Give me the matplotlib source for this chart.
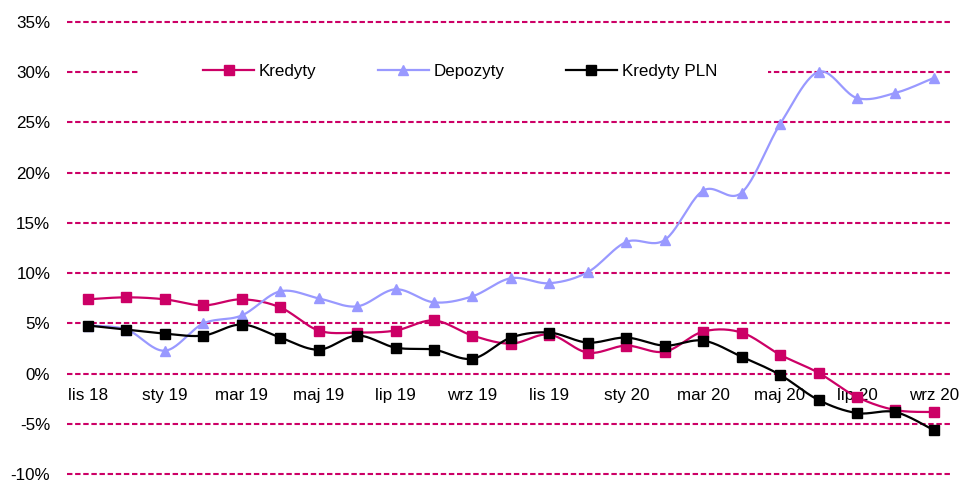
import numpy as np
import matplotlib
matplotlib.use("Agg")
import matplotlib.pyplot as plt
from matplotlib.lines import Line2D
from matplotlib.patches import Rectangle

plt.rcParams['font.family'] = ['Liberation Sans', 'DejaVu Sans']
plt.rcParams['axes.unicode_minus'] = False

# ---- data ----
months = ['lis 18', 'gru 18', 'sty 19', 'lut 19', 'mar 19', 'kwi 19', 'maj 19', 'cze 19',
          'lip 19', 'sie 19', 'wrz 19', 'paź 19', 'lis 19', 'gru 19', 'sty 20', 'lut 20',
          'mar 20', 'kwi 20', 'maj 20', 'cze 20', 'lip 20', 'sie 20', 'wrz 20']
kredyty = [7.4, 7.6, 7.4, 6.8, 7.4, 6.6, 4.3, 4.1, 4.3, 5.3, 3.8, 3.0, 3.9, 2.1, 2.8, 2.2,
           4.2, 4.1, 1.9, 0.1, -2.3, -3.6, -3.8]
depozyty = [4.8, 4.4, 2.3, 5.0, 5.8, 8.2, 7.5, 6.7, 8.4, 7.1, 7.7, 9.5, 9.0, 10.1, 13.1, 13.3,
            18.2, 18.0, 24.8, 30.0, 27.4, 27.9, 29.4]
kredyty_pln = [4.8, 4.4, 4.0, 3.8, 4.9, 3.6, 2.4, 3.8, 2.6, 2.4, 1.5, 3.6, 4.1, 3.1, 3.6, 2.8,
               3.3, 1.7, -0.1, -2.6, -3.9, -3.8, -5.6]
series_names = ['Kredyty', 'Depozyty', 'Kredyty PLN']
y_ticks = list(range(-10, 40, 5))

PINK = '#CC0066'
BLUE = '#9999FF'
BLACK = '#000000'


def smooth(vals, n=25):
    """Excel-like smoothed line (Catmull-Rom as cubic Bezier)."""
    x = np.arange(len(vals), dtype=float)
    pts = np.column_stack([x, np.asarray(vals, dtype=float)])
    P = np.vstack([pts[0], pts, pts[-1]])
    segs = []
    for i in range(len(pts) - 1):
        p0, p1, p2, p3 = P[i], P[i + 1], P[i + 2], P[i + 3]
        c1 = p1 + (p2 - p0) / 6.0
        c2 = p2 - (p3 - p1) / 6.0
        t = np.linspace(0, 1, n)[:, None]
        b = ((1 - t) ** 3) * p1 + 3 * ((1 - t) ** 2) * t * c1 + 3 * (1 - t) * t ** 2 * c2 + t ** 3 * p2
        segs.append(b if i == 0 else b[1:])
    out = np.vstack(segs)
    return out[:, 0], out[:, 1]


W, H = 963, 482
fig = plt.figure(figsize=(W / 100, H / 100), dpi=100)
ax = fig.add_axes([67 / W, 1 - 476.5 / H, (950 - 67) / W, 457 / H])

x = np.arange(len(months))
styles = [(kredyty, PINK, 's', 6.5), (depozyty, BLUE, '^', 7.5), (kredyty_pln, BLACK, 's', 6.5)]
handles = []
for k, (vals, col, mk, ms) in enumerate(styles):
    sx, sy = smooth(vals)
    ax.plot(sx, sy, color=col, lw=1.6, zorder=2 + k, solid_capstyle='round')
    ax.plot(x, vals, linestyle='none', marker=mk, markersize=ms, color=col,
            markeredgecolor=col, zorder=2.5 + k)
    handles.append(Line2D([], [], color=col, lw=1.6, marker=mk, markersize=ms,
                          markeredgecolor=col, label=series_names[k]))

ax.set_xlim(-0.546, 22.42)
ax.set_ylim(-10.2, 35.2)

ax.set_yticks(y_ticks)
ax.set_yticklabels([f'{v}%' for v in y_ticks])
ax.yaxis.grid(True, color=PINK, linestyle=(0, (2.6, 1.3)), linewidth=1.5, zorder=0.5)
ax.set_axisbelow(True)

ax.set_xticks(x[::2])
ax.set_xticklabels(months[::2])
ax.spines['bottom'].set_position(('data', 0))
for s in ax.spines.values():
    s.set_visible(False)
ax.tick_params(axis='x', length=0, pad=10, labelsize=12.24, colors='#000000')
ax.tick_params(axis='y', length=0, pad=12, labelsize=12.24, colors='#000000')
ax.patch.set_alpha(0)

# white box behind legend (hides the 30% gridline like the original legend area)
ax.add_patch(Rectangle((140 / W, 1 - 84 / H), (768 - 140) / W, 26 / H,
                       transform=fig.transFigure, facecolor='white', edgecolor='none',
                       zorder=1.5, clip_on=False))

fig.legend(handles=handles, loc='center left', bbox_to_anchor=(203 / W, 1 - 71.5 / H),
           bbox_transform=fig.transFigure, frameon=False, ncol=3,
           handlelength=51 / 17, handletextpad=0.3, columnspacing=61 / 17,
           borderpad=0, borderaxespad=0, fontsize=12.24)

fig.savefig('out.png', dpi=100)
